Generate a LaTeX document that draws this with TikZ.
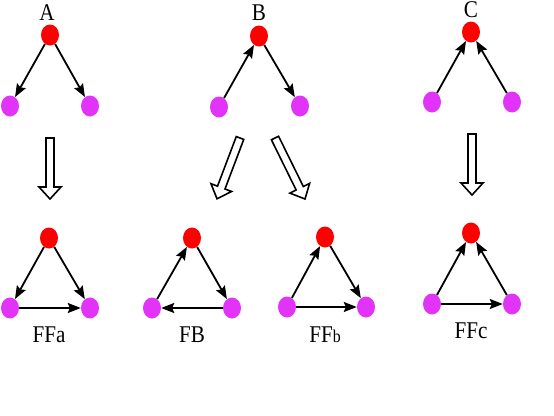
\documentclass[tikz,border=0pt]{standalone}
\usepackage{fontspec}
\setmainfont{Liberation Serif}
\newfontfamily\lblfont[FakeStretch=0.88]{Liberation Serif}
\usetikzlibrary{shapes.geometric,arrows.meta}
\definecolor{nodered}{RGB}{255,0,0}
\definecolor{nodemag}{RGB}{226,52,248}
\tikzset{
  rednode/.style={ellipse,fill=nodered,minimum width=18pt,minimum height=21pt,inner sep=0pt},
  magnode/.style={ellipse,fill=nodemag,minimum width=18pt,minimum height=21pt,inner sep=0pt},
  edge/.style={line width=1.8pt,-{Stealth[length=13pt,width=10pt,inset=2pt]}},
  lbl/.style={font=\lblfont\fontsize{24}{26}\selectfont,inner sep=0pt},
  hollow/.style={draw=black,line width=1.6pt,fill=white,line join=miter}
}
\newcommand{\hollowarrow}[3]{%
  \begin{scope}[shift={#1},rotate=#2]
    \draw[hollow] (0,-4) -- (#3-12,-4) -- (#3-12,-11) -- (#3,0) -- (#3-12,11) -- (#3-12,4) -- (0,4) -- cycle;
  \end{scope}}
\begin{document}
\begin{tikzpicture}[x=1pt,y=-1pt]
\useasboundingbox (0,0) rectangle (554,415);
% ---- top row ----
% A
\node[rednode] (a0) at (50,35) {};
\node[magnode] (a1) at (10,106) {};
\node[magnode] (a2) at (90,106) {};
\node[lbl] (la) at (47,13) {A};
\draw[edge] (a0) -- (a1);
\draw[edge] (a0) -- (a2);
% B
\node[rednode] (b0) at (259,36) {};
\node[magnode] (b1) at (219,107) {};
\node[magnode] (b2) at (300,106) {};
\node[lbl] (lb) at (259,13) {B};
\draw[edge] (b1) -- (b0);
\draw[edge] (b0) -- (b2);
% C
\node[rednode] (c0) at (471,32) {};
\node[magnode] (c1) at (432,102) {};
\node[magnode] (c2) at (512,102) {};
\node[lbl] (lc) at (471,10) {C};
\draw[edge] (c1) -- (c0);
\draw[edge] (c2) -- (c0);
% ---- hollow arrows ----
\hollowarrow{(50,138)}{-90}{61}
\hollowarrow{(240,138)}{-110.7}{65}
\hollowarrow{(275,138)}{-63.8}{68}
\hollowarrow{(472,134)}{-90}{61}
% ---- bottom row ----
% FFa
\node[rednode] (fa0) at (49,238) {};
\node[magnode] (fa1) at (10,308) {};
\node[magnode] (fa2) at (90,308) {};
\node[lbl] (lfa) at (49,335) {FFa};
\draw[edge] (fa0) -- (fa1);
\draw[edge] (fa0) -- (fa2);
\draw[edge] (fa1) -- (fa2);
% FB
\node[rednode] (fb0) at (192,238) {};
\node[magnode] (fb1) at (152,308) {};
\node[magnode] (fb2) at (232,308) {};
\node[lbl] (lfb) at (192,335) {FB};
\draw[edge] (fb1) -- (fb0);
\draw[edge] (fb0) -- (fb2);
\draw[edge] (fb2) -- (fb1);
% FFb
\node[rednode] (fc0) at (325,237) {};
\node[magnode] (fc1) at (287,307) {};
\node[magnode] (fc2) at (366,307) {};
\node[lbl] (lfc) at (325,335) {FF{\fontsize{18}{20}\selectfont b}};
\draw[edge] (fc1) -- (fc0);
\draw[edge] (fc0) -- (fc2);
\draw[edge] (fc1) -- (fc2);
% FFc
\node[rednode] (fd0) at (471,233) {};
\node[magnode] (fd1) at (432,304) {};
\node[magnode] (fd2) at (512,304) {};
\node[lbl] (lfd) at (471,331) {FFc};
\draw[edge] (fd1) -- (fd0);
\draw[edge] (fd2) -- (fd0);
\draw[edge] (fd1) -- (fd2);
\end{tikzpicture}
\end{document}
